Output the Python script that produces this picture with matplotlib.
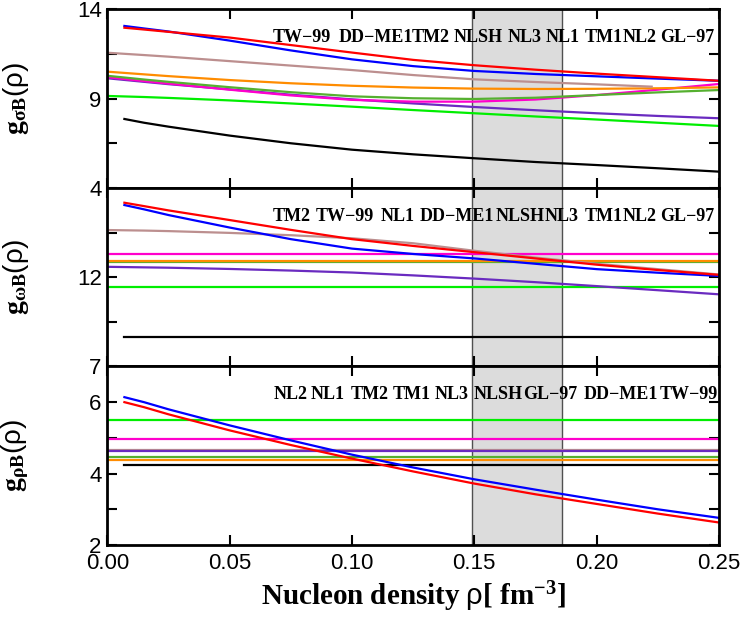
import numpy as np
import matplotlib
matplotlib.use('Agg')
import matplotlib.pyplot as plt
import matplotlib.transforms as mtransforms
from matplotlib.ticker import FixedLocator

plt.rcParams['font.family'] = ['Liberation Sans', 'DejaVu Sans']
plt.rcParams['mathtext.fontset'] = 'custom'
plt.rcParams['mathtext.rm'] = 'Liberation Sans'
plt.rcParams['mathtext.bf'] = 'Liberation Serif:bold'
plt.rcParams['mathtext.it'] = 'Liberation Serif:italic'

# density points (fm^-3)
rho0 = [0.0, 0.015, 0.025, 0.05, 0.075, 0.10, 0.125, 0.15, 0.175, 0.20, 0.225, 0.25]
rho1 = [0.007, 0.015, 0.025, 0.05, 0.075, 0.10, 0.125, 0.15, 0.175, 0.20, 0.225, 0.25]
rho_brown = [0.0, 0.015, 0.025, 0.05, 0.075, 0.10, 0.125, 0.15, 0.175, 0.20, 0.2225]

# sigma couplings
sig_red = [12.97, 12.87, 12.74, 12.42, 12.0, 11.58, 11.17, 10.87, 10.62, 10.4, 10.2, 10.0]
sig_blue = [13.07, 12.93, 12.76, 12.25, 11.7, 11.2, 10.82, 10.55, 10.38, 10.25, 10.12, 10.0]
sig_brown = [11.57, 11.44, 11.35, 11.1, 10.85, 10.6, 10.32, 10.08, 9.93, 9.8, 9.67]
sig_orange = [10.51, 10.36, 10.26, 10.04, 9.86, 9.72, 9.62, 9.56, 9.54, 9.55, 9.58, 9.63]
sig_dkgreen = [10.28, 10.07, 9.94, 9.64, 9.36, 9.13, 9.02, 8.98, 9.05, 9.2, 9.35, 9.48]
sig_magenta = [10.2, 9.98, 9.84, 9.5, 9.18, 8.93, 8.83, 8.83, 8.95, 9.2, 9.5, 9.82]
sig_purple = [10.14, 9.94, 9.81, 9.52, 9.22, 8.96, 8.73, 8.53, 8.35, 8.18, 8.03, 7.9]
sig_green = [9.15, 9.09, 9.04, 8.9, 8.73, 8.55, 8.36, 8.18, 8.0, 7.83, 7.65, 7.47]
sig_black = [7.86, 7.65, 7.43, 6.93, 6.5, 6.14, 5.88, 5.66, 5.45, 5.28, 5.1, 4.91]

# omega couplings
om_red = [16.17, 15.98, 15.74, 15.2, 14.65, 14.13, 13.75, 13.4, 13.05, 12.7, 12.4, 12.13]
om_blue = [16.04, 15.8, 15.48, 14.78, 14.13, 13.6, 13.3, 13.05, 12.75, 12.45, 12.25, 12.07]
om_brown = [14.64, 14.61, 14.58, 14.48, 14.35, 14.18, 13.9, 13.48, 13.1, 12.75, 12.45, 12.15]
om_purple = [12.58, 12.55, 12.53, 12.46, 12.37, 12.26, 12.1, 11.92, 11.72, 11.5, 11.27, 11.04]
om_magenta = 13.29
om_orange = 12.92
om_dkgreen = 12.86
om_green = 11.46
om_black = 8.66

# rho couplings
rh_blue = [6.14, 6.0, 5.8, 5.35, 4.93, 4.53, 4.17, 3.84, 3.55, 3.27, 3.0, 2.76]
rh_red = [6.0, 5.86, 5.66, 5.21, 4.8, 4.42, 4.06, 3.72, 3.42, 3.15, 2.88, 2.63]
rh_green = 5.51
rh_magenta = 4.98
rh_brown = 4.67
rh_purple = 4.62
rh_dkgreen = 4.47
rh_orange = 4.37
rh_black = 4.25

labels_sig = ['TW\u221299', 'DD\u2212ME1', 'TM2', 'NLSH', 'NL3', 'NL1', 'TM1', 'NL2', 'GL\u221297']
labels_om = ['TM2', 'TW\u221299', 'NL1', 'DD\u2212ME1', 'NLSH', 'NL3', 'TM1', 'NL2', 'GL\u221297']
labels_rh = ['NL2', 'NL1', 'TM2', 'TM1', 'NL3', 'NLSH', 'GL\u221297', 'DD\u2212ME1', 'TW\u221299']

c = {'red': '#ff0000', 'blue': '#0000ff', 'brown': '#bc8f8f', 'orange': '#ff8c00',
     'dkgreen': '#55b030', 'magenta': '#ff00cc', 'purple': '#6a2bc0',
     'green': '#00ee00', 'black': '#000000'}

fig, axes = plt.subplots(3, 1, sharex=True, figsize=(7.47, 6.23), dpi=100)
fig.subplots_adjust(left=0.1436, right=0.9625, top=0.985, bottom=0.1252, hspace=0)
ax1, ax2, ax3 = axes

lw = 1.6
# top panel
ax1.plot(rho1, sig_black, color=c['black'], lw=lw)
ax1.plot(rho0, sig_green, color=c['green'], lw=lw)
ax1.plot(rho0, sig_purple, color=c['purple'], lw=lw)
ax1.plot(rho0, sig_magenta, color=c['magenta'], lw=lw)
ax1.plot(rho0, sig_dkgreen, color=c['dkgreen'], lw=lw)
ax1.plot(rho0, sig_orange, color=c['orange'], lw=lw)
ax1.plot(rho_brown, sig_brown, color=c['brown'], lw=lw)
ax1.plot(rho1, sig_blue, color=c['blue'], lw=lw)
ax1.plot(rho1, sig_red, color=c['red'], lw=lw)

# middle panel
ax2.plot([rho1[0], rho1[-1]], [om_black] * 2, color=c['black'], lw=lw)
ax2.axhline(om_green, color=c['green'], lw=lw)
ax2.plot(rho0, om_purple, color=c['purple'], lw=lw)
ax2.axhline(om_dkgreen, color=c['dkgreen'], lw=lw)
ax2.axhline(om_orange, color=c['orange'], lw=lw)
ax2.axhline(om_magenta, color=c['magenta'], lw=lw)
ax2.plot(rho0, om_brown, color=c['brown'], lw=lw)
ax2.plot(rho1, om_blue, color=c['blue'], lw=lw)
ax2.plot(rho1, om_red, color=c['red'], lw=lw)

# bottom panel
ax3.plot([rho1[0], rho1[-1]], [rh_black] * 2, color=c['black'], lw=lw)
ax3.axhline(rh_orange, color=c['orange'], lw=lw)
ax3.axhline(rh_dkgreen, color=c['dkgreen'], lw=lw)
ax3.axhline(rh_brown, color=c['brown'], lw=lw)
ax3.axhline(rh_purple, color=c['purple'], lw=lw)
ax3.axhline(rh_magenta, color=c['magenta'], lw=lw)
ax3.axhline(rh_green, color=c['green'], lw=lw)
ax3.plot(rho1, rh_red, color=c['red'], lw=lw)
ax3.plot(rho1, rh_blue, color=c['blue'], lw=lw)

# saturation density band
for ax in axes:
    ax.axvspan(0.149, 0.186, facecolor='#dcdcdc', edgecolor='#505050', lw=1.0, zorder=0)

# axis ranges and ticks
ax1.set_ylim(4, 14)
ax1.yaxis.set_major_locator(FixedLocator([4, 9, 14]))
ax1.yaxis.set_minor_locator(FixedLocator([6.5, 11.5]))
ax2.set_ylim(7, 17)
ax2.yaxis.set_major_locator(FixedLocator([7, 12]))
ax2.yaxis.set_minor_locator(FixedLocator([9.5, 14.5]))
ax3.set_ylim(2, 7)
ax3.yaxis.set_major_locator(FixedLocator([2, 4, 6]))
ax3.yaxis.set_minor_locator(FixedLocator([3, 5]))
ax3.set_xlim(0, 0.25)
ax3.set_xticks([0, 0.05, 0.10, 0.15, 0.20, 0.25])
ax3.set_xticklabels(['0.00', '0.05', '0.10', '0.15', '0.20', '0.25'])

for ax in axes:
    ax.tick_params(which='both', direction='in', top=True, right=True,
                   length=7, width=1.5, labelsize=16, pad=4)
    for s in ax.spines.values():
        s.set_linewidth(2)
ax3.tick_params(axis='x', pad=6)

ylabels = [r'$\mathbf{g}_{\mathbf{\sigma B}}\mathrm{(\rho)}$',
           r'$\mathbf{g}_{\mathbf{\omega B}}\mathrm{(\rho)}$',
           r'$\mathbf{g}_{\mathbf{\rho B}}\mathrm{(\rho)}$']
for ax, yl in zip(axes, ylabels):
    ax.set_ylabel(yl, fontsize=20)
    ax.yaxis.set_label_coords(-0.125, 0.5)

# model name labels
label_x = [
    [0.0678, 0.0944, 0.1244, 0.1414, 0.1635, 0.1793, 0.1952, 0.2106, 0.2259],
    [0.0678, 0.0853, 0.1117, 0.1275, 0.1589, 0.1789, 0.1952, 0.2106, 0.2259],
    [0.0678, 0.0831, 0.0995, 0.1166, 0.1336, 0.1496, 0.1700, 0.1948, 0.2259],
]
for ax, names, xs in zip(axes, [labels_sig, labels_om, labels_rh], label_x):
    trans = mtransforms.blended_transform_factory(ax.transData, ax.transAxes)
    for name, xv in zip(names, xs):
        ax.text(xv, 0.815, name, transform=trans, family='Liberation Serif',
                fontweight='bold', fontsize=13, va='baseline', ha='left')

ax3.set_xlabel(r'$\mathbf{Nucleon\ density}\ \mathrm{\rho}$[ $\mathbf{fm}^{\mathbf{-3}}$]',
               fontsize=21, fontweight='bold', family='Liberation Serif', labelpad=4)

fig.savefig('out.png', dpi=100)
